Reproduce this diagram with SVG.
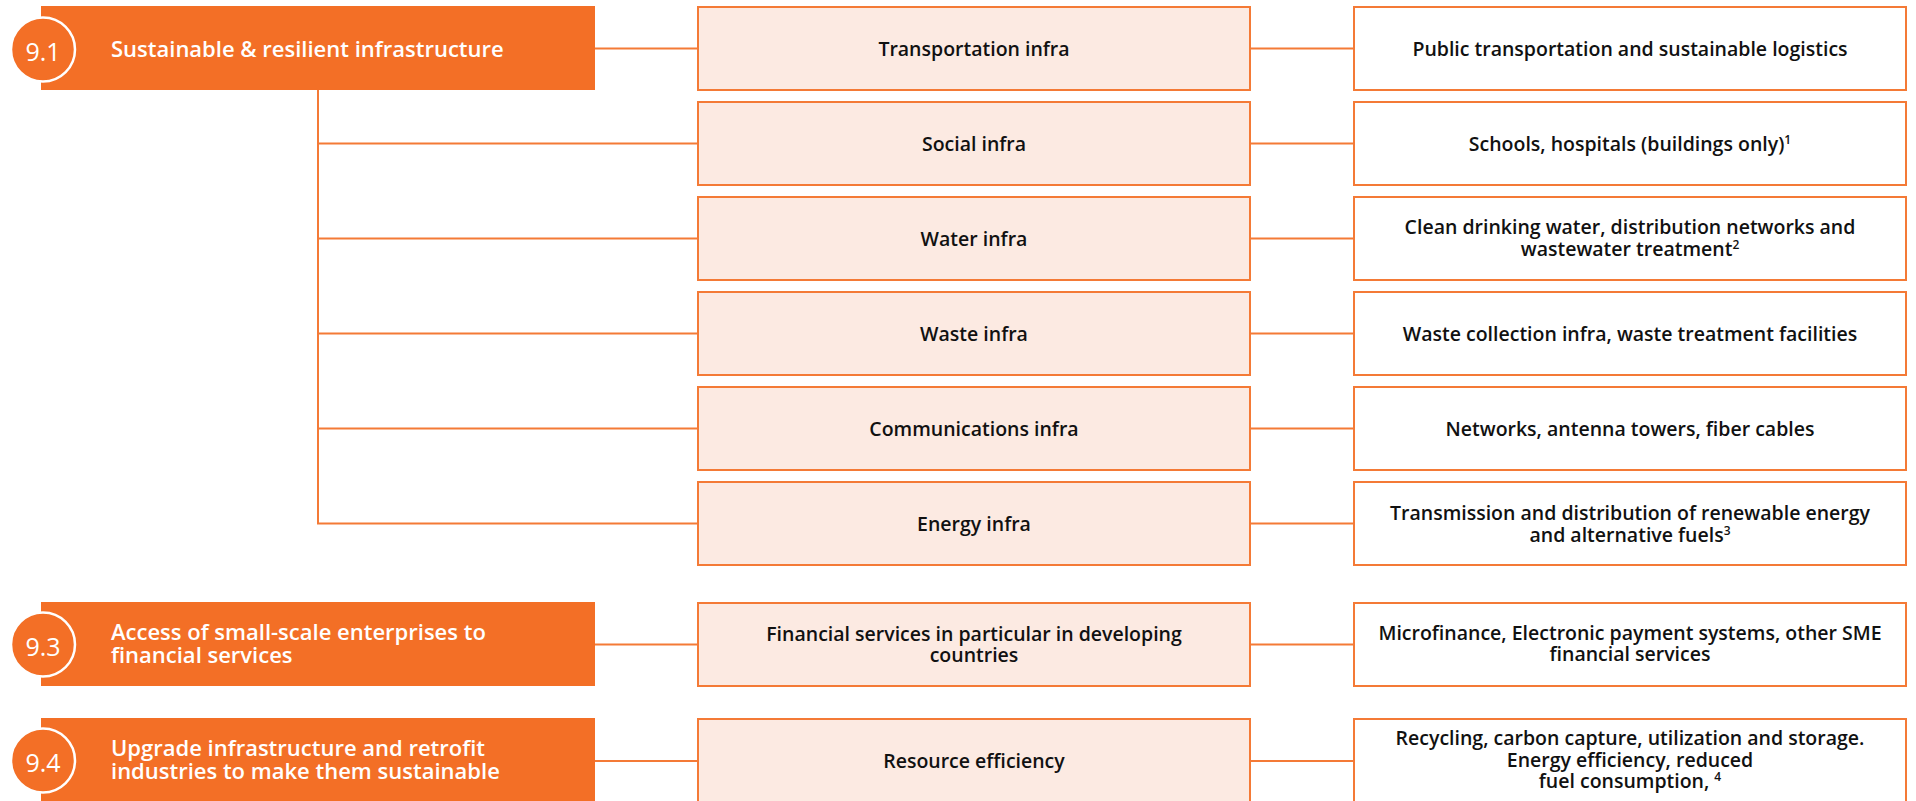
<svg xmlns="http://www.w3.org/2000/svg" width="1916" height="801" viewBox="0 0 1916 801">
<style>
.goal{fill:#F36F26}
.badge{fill:#F36F26;stroke:#FFFFFF;stroke-width:2.5}
.num{font-family:"Open Sans","Noto Sans",sans-serif;font-size:25px;fill:#FFFFFF;text-anchor:middle}
.gt{font-family:"Open Sans","Noto Sans",sans-serif;font-weight:600;font-size:22px;fill:#FFFFFF}
.mid{fill:#FCEAE2;stroke:#F47A36;stroke-width:2}
.out{fill:#FFFFFF;stroke:#F47A36;stroke-width:2}
.t{font-family:"Open Sans","Noto Sans",sans-serif;font-weight:600;font-size:19.5px;fill:#111111;text-anchor:middle}
.sup{font-size:12px}
.con{stroke:#F47A36;stroke-width:2;fill:none}
</style>
<g id="connectors">
<line class="con" x1="595" y1="48.5" x2="698" y2="48.5"/>
<line class="con" x1="318" y1="90" x2="318" y2="523.5"/>
<line class="con" x1="318" y1="143.5" x2="698" y2="143.5"/>
<line class="con" x1="318" y1="238.5" x2="698" y2="238.5"/>
<line class="con" x1="318" y1="333.5" x2="698" y2="333.5"/>
<line class="con" x1="318" y1="428.5" x2="698" y2="428.5"/>
<line class="con" x1="317" y1="523.5" x2="698" y2="523.5"/>
<line class="con" x1="1250" y1="48.5" x2="1354" y2="48.5"/>
<line class="con" x1="1250" y1="143.5" x2="1354" y2="143.5"/>
<line class="con" x1="1250" y1="238.5" x2="1354" y2="238.5"/>
<line class="con" x1="1250" y1="333.5" x2="1354" y2="333.5"/>
<line class="con" x1="1250" y1="428.5" x2="1354" y2="428.5"/>
<line class="con" x1="1250" y1="523.5" x2="1354" y2="523.5"/>
<line class="con" x1="595" y1="644.5" x2="698" y2="644.5"/>
<line class="con" x1="1250" y1="644.5" x2="1354" y2="644.5"/>
<line class="con" x1="595" y1="761" x2="698" y2="761"/>
<line class="con" x1="1250" y1="761" x2="1354" y2="761"/>
</g>
<g id="goal-9-1">
<rect class="goal" x="41" y="6" width="554" height="84"/>
<circle class="badge" cx="43" cy="49.5" r="32"/>
<text class="num" x="43" y="61">9.1</text>
<text class="gt" x="111" y="57">Sustainable &amp; resilient infrastructure</text>
</g>
<g id="goal-9-3">
<rect class="goal" x="41" y="602" width="554" height="84"/>
<circle class="badge" cx="43" cy="644.5" r="32"/>
<text class="num" x="43" y="656">9.3</text>
<text class="gt" x="111" y="640">Access of small-scale enterprises to</text>
<text class="gt" x="111" y="663">financial services</text>
</g>
<g id="goal-9-4">
<rect class="goal" x="41" y="718" width="554" height="86"/>
<circle class="badge" cx="43" cy="760.5" r="32"/>
<text class="num" x="43" y="772">9.4</text>
<text class="gt" x="111" y="756">Upgrade infrastructure and retrofit</text>
<text class="gt" x="111" y="779">industries to make them sustainable</text>
</g>
<g id="transportation-infra">
<rect class="mid" x="698" y="7" width="552" height="83"/>
<text class="t" x="974" y="55.5">Transportation infra</text>
</g>
<g id="social-infra">
<rect class="mid" x="698" y="102" width="552" height="83"/>
<text class="t" x="974" y="150.5">Social infra</text>
</g>
<g id="water-infra">
<rect class="mid" x="698" y="197" width="552" height="83"/>
<text class="t" x="974" y="245.5">Water infra</text>
</g>
<g id="waste-infra">
<rect class="mid" x="698" y="292" width="552" height="83"/>
<text class="t" x="974" y="340.5">Waste infra</text>
</g>
<g id="communications-infra">
<rect class="mid" x="698" y="387" width="552" height="83"/>
<text class="t" x="974" y="435.5">Communications infra</text>
</g>
<g id="energy-infra">
<rect class="mid" x="698" y="482" width="552" height="83"/>
<text class="t" x="974" y="530.5">Energy infra</text>
</g>
<g id="financial-services">
<rect class="mid" x="698" y="603" width="552" height="83"/>
<text class="t" x="974" y="641">Financial services in particular in developing</text>
<text class="t" x="974" y="661.5">countries</text>
</g>
<g id="resource-efficiency">
<rect class="mid" x="698" y="719" width="552" height="86"/>
<text class="t" x="974" y="768">Resource efficiency</text>
</g>
<g id="public-transportation">
<rect class="out" x="1354" y="7" width="552" height="83"/>
<text class="t" x="1630" y="55.5">Public transportation and sustainable logistics</text>
</g>
<g id="schools-hospitals">
<rect class="out" x="1354" y="102" width="552" height="83"/>
<text class="t" x="1630" y="150.5">Schools, hospitals (buildings only)<tspan class="sup" dy="-7">1</tspan></text>
</g>
<g id="clean-water">
<rect class="out" x="1354" y="197" width="552" height="83"/>
<text class="t" x="1630" y="234">Clean drinking water, distribution networks and</text>
<text class="t" x="1630" y="256">wastewater treatment<tspan class="sup" dy="-7">2</tspan></text>
</g>
<g id="waste-collection">
<rect class="out" x="1354" y="292" width="552" height="83"/>
<text class="t" x="1630" y="340.5">Waste collection infra, waste treatment facilities</text>
</g>
<g id="networks">
<rect class="out" x="1354" y="387" width="552" height="83"/>
<text class="t" x="1630" y="435.5">Networks, antenna towers, fiber cables</text>
</g>
<g id="transmission">
<rect class="out" x="1354" y="482" width="552" height="83"/>
<text class="t" x="1630" y="520">Transmission and distribution of renewable energy</text>
<text class="t" x="1630" y="541.5">and alternative fuels<tspan class="sup" dy="-7">3</tspan></text>
</g>
<g id="microfinance">
<rect class="out" x="1354" y="603" width="552" height="83"/>
<text class="t" x="1630" y="640">Microfinance, Electronic payment systems, other SME</text>
<text class="t" x="1630" y="661">financial services</text>
</g>
<g id="recycling">
<rect class="out" x="1354" y="719" width="552" height="86"/>
<text class="t" x="1630" y="745">Recycling, carbon capture, utilization and storage.</text>
<text class="t" x="1630" y="766.5">Energy efficiency, reduced</text>
<text class="t" x="1630" y="788">fuel consumption, <tspan class="sup" dy="-7">4</tspan></text>
</g>
</svg>
